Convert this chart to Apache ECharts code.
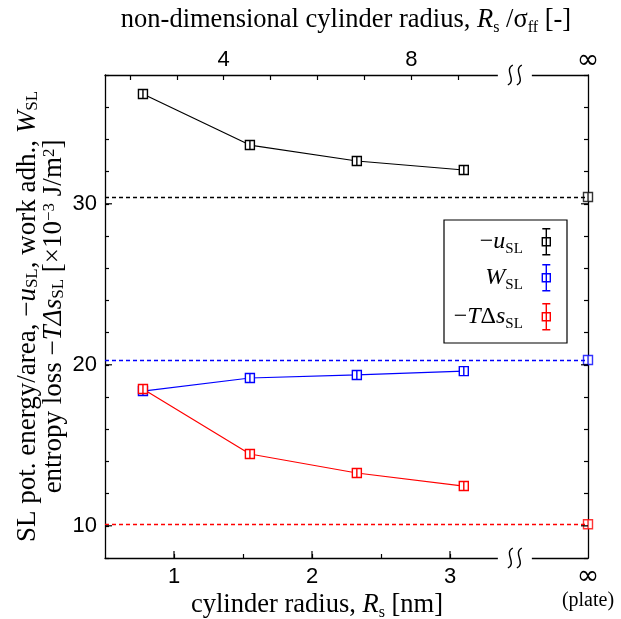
<!DOCTYPE html>
<html><head><meta charset="utf-8">
<script src="https://cdn.jsdelivr.net/npm/echarts@6/dist/echarts.min.js"></script>
<style>html,body{margin:0;padding:0;background:#fff}#c{width:621px;height:619px}</style>
</head><body><div id="c"></div>
<script>
// ---- data ----
const radiusNm = [0.775, 1.55, 2.325, 3.1];
const negU   = [36.82, 33.65, 32.66, 32.1];
const wSL    = [18.37, 19.18, 19.37, 19.61];
const negTds = [18.5, 14.46, 13.28, 12.47];
const plateNegU = 30.42, plateW = 20.3, plateNegTds = 10.1;
const xInf = 4.0;            // axis position used for "∞ (plate)"
const sigmaFF = 0.34;        // nm
const bottomLabelVals = [1, 2, 3];
const bottomTickVals = [1, 1.5, 2, 2.5, 3];
const topTickVals = [2, 3, 4, 5, 6, 7, 8, 9];
const topLabelVals = [4, 8];
const yLabelVals = [10, 20, 30];
const xBreak = 3.47;

const SERIF = 'Liberation Serif', SANS = 'Liberation Sans';
const xMin = 0.5, yMin = 8, yMax = 38;

const chart = echarts.init(document.getElementById('c'), null, {renderer: 'canvas'});
const sym = 'path://M0,0H10V10H0Z M5,0V10';
const colors = {u: '#000000', w: '#0000ff', t: '#ff0000'};

function mk(name, color, ys, plate) {
  return [
    {type: 'line', name, data: radiusNm.map((x, i) => [x, ys[i]]), symbol: sym, symbolSize: 9,
     itemStyle: {color: '#fff', borderColor: color, borderWidth: 1.4},
     lineStyle: {color, width: 1.2}, z: 3, emphasis: {disabled: true}, silent: true},
    {type: 'scatter', name, data: [[xInf, plate]], symbol: sym, symbolSize: 9, clip: false,
     itemStyle: {color: '#fff', borderColor: color, borderWidth: 1.4}, z: 3,
     emphasis: {disabled: true}, silent: true,
     markLine: {silent: true, symbol: 'none', label: {show: false}, animation: false,
       lineStyle: {color, type: [4, 3], width: 1.3}, data: [{yAxis: plate}]}}
  ];
}

const subRich = {
  i: {fontFamily: SERIF, fontStyle: 'italic', fontSize: 26.5, lineHeight: 32, verticalAlign: 'middle', color: '#000'},
  s: {fontFamily: SERIF, fontSize: 16, lineHeight: 16, verticalAlign: 'bottom', color: '#000'},
  p: {fontFamily: SERIF, fontSize: 16, lineHeight: 16, verticalAlign: 'top', color: '#000'}
};

const legNames = ['negU', 'W', 'negTds'];
const legColors = [colors.u, colors.w, colors.t];
const legLabels = ['{m|−}{i|u}{s|SL}{g|}', '{i|W}{s|SL}{g|}', '{m|−}{i|T}{m|Δ}{i|s}{s|SL}{g|}'];
const legTops = [228, 264, 303];
const legIcon = 'path://M0,0H8M4,0V26M0,26H8M0,9H8V17H0Z';
const legRich = {
  m: {fontFamily: SERIF, fontSize: 24, lineHeight: 30, verticalAlign: 'middle', color: '#000'},
  i: {fontFamily: SERIF, fontStyle: 'italic', fontSize: 24, lineHeight: 30, verticalAlign: 'middle', color: '#000'},
  s: {fontFamily: SERIF, fontSize: 15, lineHeight: 15, verticalAlign: 'bottom', color: '#000'},
  g: {width: 14}
};

const option = {
  animation: false,
  backgroundColor: '#fff',
  grid: {left: 105, right: 33, top: 75, bottom: 61, containLabel: false},
  title: [
    {text: 'non-dimensional cylinder radius, {i|R}{s|s} /σ{s|ff} [-]', left: 346, top: 4, textAlign: 'center', padding: 0,
     textStyle: {fontFamily: SERIF, fontSize: 26.5, fontWeight: 'normal', lineHeight: 32, color: '#000', rich: subRich}},
    {text: 'cylinder radius, {i|R}{s|s} [nm]', left: 317, top: 589, textAlign: 'center', padding: 0,
     textStyle: {fontFamily: SERIF, fontSize: 26.5, fontWeight: 'normal', lineHeight: 32, color: '#000', rich: subRich}}
  ],
  xAxis: [
    {type: 'value', position: 'bottom', min: xMin, max: xInf, splitLine: {show: false},
     axisLine: {show: true, onZero: false, lineStyle: {color: '#000', width: 1.3}},
     axisTick: {show: true, inside: true, length: 4, customValues: bottomTickVals, lineStyle: {color: '#000', width: 1.2}},
     axisLabel: {show: true, customValues: bottomLabelVals.concat([xInf]), margin: 8, color: '#000',
       fontFamily: SANS, fontSize: 22,
       formatter: v => (Math.abs(v - xInf) < 1e-9 ? '{inf|∞}\n{pl|(plate)}' : String(v)),
       rich: {inf: {fontFamily: 'DejaVu Sans', fontSize: 27, lineHeight: 22, color: '#000'},
              pl: {fontFamily: SERIF, fontSize: 20, lineHeight: 26, color: '#000'}}}},
    {type: 'value', position: 'top', min: xMin / sigmaFF, max: xInf / sigmaFF, splitLine: {show: false},
     axisLine: {show: true, onZero: false, lineStyle: {color: '#000', width: 1.3}},
     axisTick: {show: true, inside: true, length: 5, customValues: topTickVals, lineStyle: {color: '#000', width: 1.2}},
     axisLabel: {show: true, customValues: topLabelVals.concat([xInf / sigmaFF]), margin: 4, color: '#000',
       fontFamily: SANS, fontSize: 22,
       formatter: v => (Math.abs(v - xInf / sigmaFF) < 1e-9 ? '{inf|∞}' : String(v)),
       rich: {inf: {fontFamily: 'DejaVu Sans', fontSize: 27, lineHeight: 20, color: '#000'}}}}
  ],
  yAxis: [
    {type: 'value', position: 'left', min: yMin, max: yMax, interval: 2, splitLine: {show: false},
     axisLine: {show: true, onZero: false, lineStyle: {color: '#000', width: 1.3}},
     axisTick: {show: true, inside: true, length: 4, lineStyle: {color: '#000', width: 1.2}},
     axisLabel: {show: true, customValues: yLabelVals, margin: 8, color: '#000', fontFamily: SANS, fontSize: 22},
     name: 'SL pot. energy/area, −{i|u}{s|SL}, work adh., {i|W}{s|SL}\nentropy loss −{i|TΔs}{s|SL} [×10{p|−3} J/m{p|2}]',
     nameLocation: 'middle', nameRotate: 90, nameGap: 38, nameMoveOverlap: false,
     nameTextStyle: {fontFamily: SERIF, fontSize: 27, lineHeight: 26, color: '#000',
       rich: {
         i: {fontFamily: SERIF, fontStyle: 'italic', fontSize: 27, lineHeight: 26, verticalAlign: 'middle', color: '#000'},
         s: {fontFamily: SERIF, fontSize: 17, lineHeight: 16, verticalAlign: 'bottom', color: '#000'},
         p: {fontFamily: SERIF, fontSize: 17, lineHeight: 16, verticalAlign: 'top', color: '#000'}}}},
    {type: 'value', position: 'right', min: yMin, max: yMax, interval: 2, splitLine: {show: false},
     axisLine: {show: true, onZero: false, lineStyle: {color: '#000', width: 1.3}},
     axisTick: {show: true, inside: true, length: 4, lineStyle: {color: '#000', width: 1.2}},
     axisLabel: {show: false}}
  ],
  legend: legNames.map((n, i) => ({
    data: [{name: n, icon: legIcon, itemStyle: {color: '#fff', borderColor: legColors[i], borderWidth: 1.4}}],
    right: 70, top: legTops[i], orient: 'vertical', align: 'right', padding: 0,
    itemWidth: 9, itemHeight: 26, selectedMode: false, z: 10,
    formatter: () => legLabels[i],
    textStyle: {color: '#000', fontFamily: SERIF, fontSize: 24, rich: legRich}
  })),
  series: [].concat(mk('negU', colors.u, negU, plateNegU), mk('W', colors.w, wSL, plateW), mk('negTds', colors.t, negTds, plateNegTds))
};
chart.setOption(option);

// decorations: axis breaks, longer major ticks, legend frame
const px = (x, y) => chart.convertToPixel({gridIndex: 0}, [x, y]);
const xl = px(xMin, yMin)[0], xr = px(xInf, yMin)[0];
const yb = px(xMin, yMin)[1], yt = px(xMin, yMax)[1];
const g = [];
g.push({type: 'rect', z: 5, shape: {x: 444, y: 220, width: 123, height: 123},
        style: {fill: '#fff', stroke: '#000', lineWidth: 1.2}});
const xb = px(xBreak, yMin)[0];
[yt, yb].forEach(ay => {
  g.push({type: 'rect', z: 20, shape: {x: xb - 17, y: ay - 5, width: 34, height: 10}, style: {fill: '#fff'}});
  [-4.5, 4.5].forEach(d => {
    const cx = xb + d;
    g.push({type: 'bezierCurve', z: 21,
      shape: {x1: cx + 2.5, y1: ay - 10, cpx1: cx - 7, cpy1: ay - 5, cpx2: cx + 7, cpy2: ay + 5, x2: cx - 2.5, y2: ay + 10},
      style: {stroke: '#000', lineWidth: 1.4, fill: null}});
  });
});
yLabelVals.forEach(v => {
  const py = px(xMin, v)[1];
  g.push({type: 'line', z: 20, shape: {x1: xl, y1: py, x2: xl + 7, y2: py}, style: {stroke: '#000', lineWidth: 1.2}});
  g.push({type: 'line', z: 20, shape: {x1: xr - 7, y1: py, x2: xr, y2: py}, style: {stroke: '#000', lineWidth: 1.2}});
});
bottomLabelVals.forEach(v => {
  const pxx = px(v, yMin)[0];
  g.push({type: 'line', z: 20, shape: {x1: pxx, y1: yb, x2: pxx, y2: yb - 7}, style: {stroke: '#000', lineWidth: 1.2}});
});
chart.setOption({graphic: g});
</script>
</body></html>
